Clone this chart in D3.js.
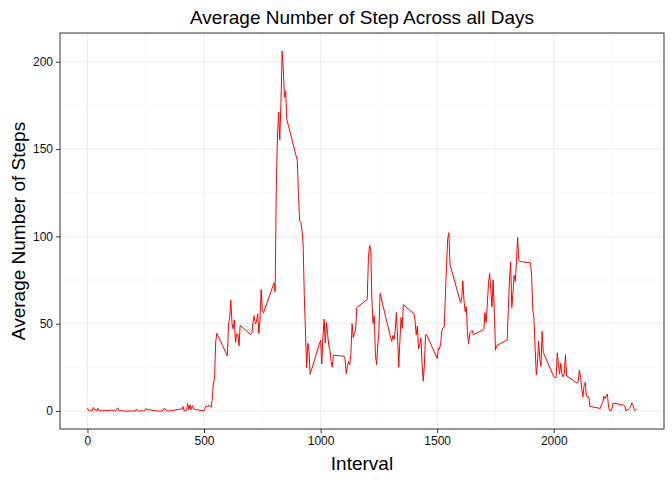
<!DOCTYPE html>
<html><head><meta charset="utf-8">
<script src="https://cdn.jsdelivr.net/npm/d3@7"></script>
<style>body{margin:0;background:#fff}text{font-family:"Liberation Sans",Arial,sans-serif}</style>
</head><body><div id="chart"></div>
<script>
// mean steps per 5-minute interval (interval coded as hhmm)
const steps = [
1.717,0.340,0.132,0.151,0.075,2.094,0.528,0.868,0,1.472,0.302,0.132,
0.321,0.679,0.151,0.340,0,1.113,1.830,0.170,0.170,0.377,0.264,0,
0,0,1.132,0,0,0.132,0,0.226,0,0,1.547,0.943,
0,0,0,0,0.208,0.623,1.623,0.585,0.491,0.075,0,0,
1.189,0.943,2.566,0,0.340,0.358,4.113,0.660,3.491,0.830,3.113,1.113,
0,1.566,3.0,2.245,3.321,2.962,2.094,6.057,16.019,18.340,39.453,44.491,
31.491,49.264,53.774,63.453,49.962,47.075,52.151,39.340,44.019,44.170,37.358,49.038,
43.811,44.377,50.509,54.509,49.925,50.981,55.679,44.321,52.264,69.547,57.849,56.151,
73.377,68.208,129.434,157.528,171.151,155.396,177.302,206.170,195.925,179.566,183.396,167.019,
143.453,124.038,109.113,108.113,103.717,95.962,66.208,45.226,24.792,38.755,34.981,21.057,
40.566,26.981,42.415,52.660,38.925,50.792,44.283,37.415,34.698,28.340,25.094,31.943,
31.358,29.679,21.321,25.547,28.377,26.472,33.434,49.981,42.038,44.604,46.038,59.189,
63.868,87.698,94.849,92.774,63.396,50.170,54.472,32.415,26.528,37.736,45.057,67.283,
42.340,39.887,43.264,40.981,46.245,56.434,42.755,25.132,39.962,53.547,47.321,60.811,
55.755,51.962,43.585,48.698,35.472,37.547,41.849,27.509,17.113,26.075,43.623,43.774,
30.019,36.075,35.491,38.849,45.962,47.755,48.132,65.321,82.906,98.660,102.113,83.962,
62.132,64.132,74.547,63.170,56.906,59.774,43.868,38.566,44.660,45.453,46.208,43.679,
46.623,56.302,50.717,61.226,72.717,78.943,68.943,59.660,75.094,56.509,34.774,37.453,
40.679,58.019,74.698,85.321,59.264,67.774,77.698,74.245,85.340,99.453,86.585,85.604,
84.868,77.830,58.038,53.358,36.321,20.717,27.396,40.019,30.208,25.547,45.660,33.528,
19.623,19.019,19.340,33.340,26.811,21.170,27.302,21.340,19.547,21.321,32.302,20.151,
15.943,17.226,23.453,19.245,12.453,8.019,14.660,16.302,8.679,7.792,8.132,2.623,
1.453,3.679,4.811,8.509,7.075,8.698,9.755,2.208,0.321,0.113,1.604,4.604,
3.302,2.849,0,0.830,0.962,1.585,2.604,4.698,3.302,0.642,0.226,1.075];
const hours = d3.range(24);
const minutes = d3.range(0, 60, 5);
const intervals = hours.flatMap(h => minutes.map(m => h * 100 + m));
const data = intervals.map((iv, i) => ({ interval: iv, steps: steps[i] }));
const xTicks = [0, 500, 1000, 1500, 2000];
const yTicks = [0, 50, 100, 150, 200];

const W = 672, H = 480;
const m = { top: 33, right: 8, bottom: 51, left: 60 };
const w = W - m.left - m.right, h = H - m.top - m.bottom;

const svg = d3.select('#chart').append('svg').attr('width', W).attr('height', H);
const g = svg.append('g').attr('transform', `translate(${m.left},${m.top})`);

const xMax = d3.max(intervals), yMax = d3.max(steps);
const x = d3.scaleLinear().domain([-xMax * 0.05, xMax * 1.05]).range([0, w]);
const y = d3.scaleLinear().domain([-yMax * 0.05, yMax * 1.05]).range([h, 0]);

const xMinor = d3.range(250, 2500, 500), yMinor = d3.range(25, 225, 50);
g.selectAll('.vmin').data(xMinor).enter().append('line')
  .attr('x1', d => x(d)).attr('x2', d => x(d)).attr('y1', 0).attr('y2', h)
  .attr('stroke', '#f2f2f2').attr('stroke-width', 0.6);
g.selectAll('.hmin').data(yMinor).enter().append('line')
  .attr('y1', d => y(d)).attr('y2', d => y(d)).attr('x1', 0).attr('x2', w)
  .attr('stroke', '#f2f2f2').attr('stroke-width', 0.6);
g.selectAll('.vmaj').data(xTicks).enter().append('line')
  .attr('x1', d => x(d)).attr('x2', d => x(d)).attr('y1', 0).attr('y2', h)
  .attr('stroke', '#ebebeb').attr('stroke-width', 1);
g.selectAll('.hmaj').data(yTicks).enter().append('line')
  .attr('y1', d => y(d)).attr('y2', d => y(d)).attr('x1', 0).attr('x2', w)
  .attr('stroke', '#ebebeb').attr('stroke-width', 1);

g.append('path').datum(data)
  .attr('fill', 'none').attr('stroke', 'red').attr('stroke-width', 1)
  .attr('d', d3.line().x(d => x(d.interval)).y(d => y(d.steps)));

g.append('rect').attr('width', w).attr('height', h)
  .attr('fill', 'none').attr('stroke', '#333').attr('stroke-width', 1);

const xAxis = g.append('g').attr('transform', `translate(0,${h})`)
  .call(d3.axisBottom(x).tickValues(xTicks).tickFormat(d3.format('d')).tickSize(4).tickPadding(3));
const yAxis = g.append('g')
  .call(d3.axisLeft(y).tickValues(yTicks).tickFormat(d3.format('d')).tickSize(4).tickPadding(3));
[xAxis, yAxis].forEach(a => {
  a.select('.domain').remove();
  a.selectAll('line').attr('stroke', '#333');
  a.selectAll('text').attr('fill', '#111').style('font-size', '12px');
});

svg.append('text').attr('x', m.left + w / 2).attr('y', 24).attr('text-anchor', 'middle')
  .style('font-size', '19px').text('Average Number of Step Across all Days');
svg.append('text').attr('x', m.left + w / 2).attr('y', 470).attr('text-anchor', 'middle')
  .style('font-size', '19px').text('Interval');
svg.append('text').attr('transform', `translate(25,${m.top + h / 2}) rotate(-90)`)
  .attr('text-anchor', 'middle').style('font-size', '19px').text('Average Number of Steps');
</script></body></html>
